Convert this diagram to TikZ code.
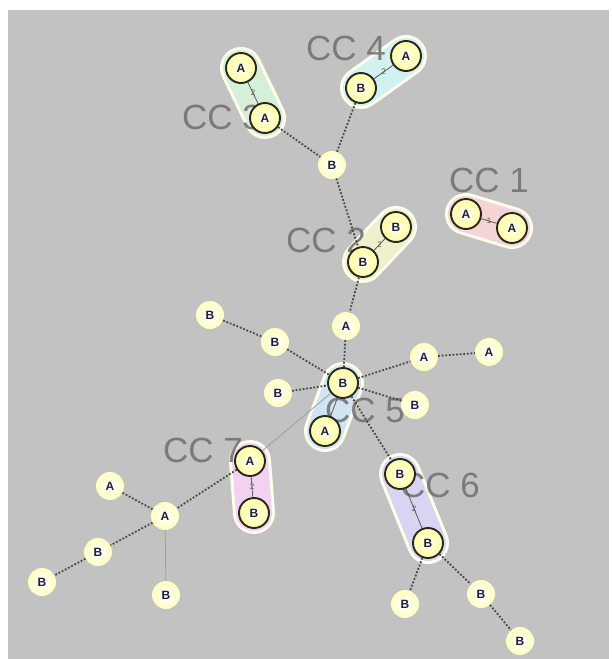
\documentclass[tikz,border=0pt]{standalone}
\usepackage{fontspec}
\setmainfont{Liberation Sans}
\begin{document}
\begin{tikzpicture}[x=1pt,y=-1pt,
  pnode/.style={circle, minimum size=28pt, inner sep=0pt, shading=radial, inner color=white, outer color=yellow!25!white, font=\bfseries\fontsize{12}{12}\selectfont, text=textblue},
  cnode/.style={circle, minimum size=30pt, inner sep=0pt, shading=radial, inner color=yellow!8!white, outer color=yellow!38!white, draw=black!85, line width=1.9pt, font=\bfseries\fontsize{12}{12}\selectfont, text=textblue},
  dotline/.style={draw=black!72, line width=1.8pt, dash pattern=on 1.8pt off 1.8pt},
  greyline/.style={draw=black!38, line width=0.8pt},
  pairline/.style={draw=black!65, line width=0.8pt},
  ccl/.style={font=\fontsize{35}{35}\selectfont, text=black!55, opacity=0.9},
  elab/.style={font=\fontsize{8}{8}\selectfont, text=black!65, inner sep=0.5pt},
  hullw/.style={line width=42pt, line cap=round, draw=white!92!yellow},
]
\useasboundingbox (0,0) rectangle (611,659);
\definecolor{textblue}{HTML}{1C1C4C}
\definecolor{bg}{HTML}{C2C2C2}
\definecolor{h3}{HTML}{D6F0D8}
\definecolor{h4}{HTML}{D2F2F0}
\definecolor{h1}{HTML}{F4D4D4}
\definecolor{h2}{HTML}{F0F0CC}
\definecolor{h5}{HTML}{D0E4F2}
\definecolor{h7}{HTML}{F2D2F0}
\definecolor{h6}{HTML}{D8D4F2}
\fill[white] (0,0) rectangle (611,659);
\fill[bg] (8,10) rectangle (609,659);

% coordinates
\coordinate (p3a) at (241,68);
\coordinate (p3b) at (265,118);
\coordinate (p4a) at (406,56);
\coordinate (p4b) at (361,88);
\coordinate (p1a) at (466,214);
\coordinate (p1b) at (512,228);
\coordinate (p2a) at (396,227);
\coordinate (p2b) at (363,262);
\coordinate (pc) at (343,383);
\coordinate (p5a) at (325,431);
\coordinate (p7a) at (250,461);
\coordinate (p7b) at (254,513);
\coordinate (p6a) at (400,474);
\coordinate (p6b) at (428,543);

% hulls
\foreach \u/\v/\c in {p3a/p3b/h3, p4a/p4b/h4, p1a/p1b/h1, p2a/p2b/h2, pc/p5a/h5, p7a/p7b/h7, p6a/p6b/h6}{
  \draw[hullw] (\u) -- (\v);
  \draw[line width=36pt, line cap=round, draw=\c] (\u) -- (\v);
}

% labels CC
\node[ccl] (cc3) at (222,117) {CC 3};
\node[ccl] (cc4) at (346,48) {CC 4};
\node[ccl] (cc1) at (489,180) {CC 1};
\node[ccl] (cc2) at (326,240) {CC 2};
\node[ccl] (cc5) at (365,410) {CC 5};
\node[ccl] (cc7) at (203,450) {CC 7};
\node[ccl] (cc6) at (440,485) {CC 6};

% nodes
\node[cnode] (n3a) at (p3a) {A};
\node[cnode] (n3b) at (p3b) {A};
\node[cnode] (n4a) at (p4a) {A};
\node[cnode] (n4b) at (p4b) {B};
\node[cnode] (n1a) at (p1a) {A};
\node[cnode] (n1b) at (p1b) {A};
\node[cnode] (n2a) at (p2a) {B};
\node[cnode] (n2b) at (p2b) {B};
\node[cnode] (nc) at (pc) {B};
\node[cnode] (n5a) at (p5a) {A};
\node[cnode] (n7a) at (p7a) {A};
\node[cnode] (n7b) at (p7b) {B};
\node[cnode] (n6a) at (p6a) {B};
\node[cnode] (n6b) at (p6b) {B};

\node[pnode] (top) at (332,165) {B};
\node[pnode] (amid) at (346,326) {A};
\node[pnode] (b1) at (210,315) {B};
\node[pnode] (b2) at (275,342) {B};
\node[pnode] (b3) at (278,393) {B};
\node[pnode] (a1) at (424,357) {A};
\node[pnode] (a2) at (489,352) {A};
\node[pnode] (b4) at (415,405) {B};
\node[pnode] (la) at (165,516) {A};
\node[pnode] (la2) at (110,486) {A};
\node[pnode] (lb1) at (98,552) {B};
\node[pnode] (lb2) at (42,582) {B};
\node[pnode] (lb3) at (166,595) {B};
\node[pnode] (rb1) at (405,604) {B};
\node[pnode] (rb2) at (481,594) {B};
\node[pnode] (rb3) at (520,641) {B};

% edges
\draw[dotline] (n3b) -- (top);
\draw[dotline] (n4b) -- (top);
\draw[dotline] (top) -- (n2b);
\draw[dotline] (n2b) -- (amid);
\draw[dotline] (amid) -- (nc);
\draw[dotline] (b1) -- (b2);
\draw[dotline] (b2) -- (nc);
\draw[dotline] (b3) -- (nc);
\draw[dotline] (nc) -- (a1);
\draw[dotline] (a1) -- (a2);
\draw[dotline] (nc) -- (b4);
\draw[dotline] (nc) -- (n6a);
\draw[greyline] (nc) -- (n7a);
\draw[dotline] (n7a) -- (la);
\draw[dotline] (la) -- (la2);
\draw[dotline] (la) -- (lb1);
\draw[dotline] (lb1) -- (lb2);
\draw[greyline] (la) -- (lb3);
\draw[dotline] (n6b) -- (rb1);
\draw[dotline] (n6b) -- (rb2);
\draw[dotline] (rb2) -- (rb3);

% pair edges with labels
\draw[pairline] (n3a) -- node[elab] {2} (n3b);
\draw[pairline] (n4a) -- node[elab] {2} (n4b);
\draw[pairline] (n1a) -- node[elab] {1} (n1b);
\draw[pairline] (n2a) -- node[elab] {2} (n2b);
\draw[pairline] (nc) -- (n5a);
\draw[pairline] (n7a) -- node[elab] {2} (n7b);
\draw[pairline] (n6a) -- node[elab] {2} (n6b);
\end{tikzpicture}
\end{document}
